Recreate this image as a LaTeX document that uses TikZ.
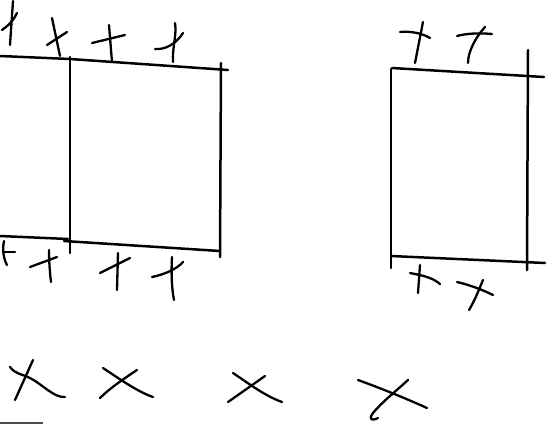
\documentclass[tikz,border=0pt]{standalone}
\begin{document}
\begin{tikzpicture}[x=1pt,y=-1pt,
  pen/.style={line width=2.5pt,line cap=round,line join=round,black},
  tick/.style={line width=2.3pt,line cap=round,line join=round,black}]
\useasboundingbox[fill=white] (0,0) rectangle (555,424);
% left pair of boxes
\draw[pen] (0,56) -- (70,59) -- (228,70);
\draw[pen] (0,236) -- (68,239);
\draw[pen] (64,241) -- (220,251);
\draw[pen] (70,57) -- (70,253);
\draw[pen] (221,63) -- (220,257);
% right box
\draw[pen] (392,68) -- (544,77);
\draw[pen] (391,256) -- (545,263);
\draw[pen] (391,69) -- (391,268);
\draw[pen] (528,50) -- (527,270);
% ticks on top of left boxes
\draw[tick] (13,1) -- (10,45);  \draw[tick] (2,30) .. controls (8,26) and (14,20) .. (17,13);
\draw[tick] (52,18) -- (60,56); \draw[tick] (47,45) -- (67,32);
\draw[tick] (109,25) -- (112,62); \draw[tick] (92,43) -- (125,35);
\draw[tick] (175,23) .. controls (177,35) and (172,48) .. (173,62); \draw[tick] (155,49) .. controls (165,50) and (176,44) .. (183,33);
% ticks below left boxes
\draw[tick] (4,241) .. controls (2,250) and (4,260) .. (7,265); \draw[tick] (3,252) -- (15,252);
\draw[tick] (49,250) .. controls (49,262) and (50,274) .. (51,282); \draw[tick] (30,267) -- (57,257);
\draw[tick] (118,253) -- (117,290); \draw[tick] (100,273) -- (130,258);
\draw[tick] (172,257) .. controls (171,275) and (172,290) .. (174,300); \draw[tick] (152,277) .. controls (162,275) and (176,270) .. (183,262);
% ticks on top of right box
\draw[tick] (423,22) -- (415,63); \draw[tick] (400,32) .. controls (410,31) and (422,33) .. (430,38);
\draw[tick] (485,27) .. controls (475,38) and (468,52) .. (468,63); \draw[tick] (457,36) .. controls (468,33) and (482,33) .. (492,34);
% ticks below right box
\draw[tick] (420,265) -- (418,293); \draw[tick] (410,273) .. controls (420,275) and (432,277) .. (440,284);
\draw[tick] (483,280) .. controls (478,292) and (474,302) .. (469,310); \draw[tick] (457,282) .. controls (470,285) and (483,290) .. (493,295);
% crosses at the bottom
\draw[tick] (33,360) -- (15,400); \draw[tick] (10,367) .. controls (15,374) and (22,374) .. (30,378) .. controls (42,384) and (54,398) .. (65,397);
\draw[tick] (137,370) .. controls (125,378) and (110,388) .. (100,398); \draw[tick] (103,368) .. controls (118,378) and (138,392) .. (153,397);
\draw[tick] (265,376) -- (228,402); \draw[tick] (233,373) .. controls (248,383) and (265,396) .. (282,402);
\draw[tick] (408,380) .. controls (395,392) and (382,402) .. (373,413) .. controls (368,420) and (372,421) .. (378,418);
\draw[tick] (358,380) .. controls (380,388) and (405,398) .. (427,408);
% scan edge mark
\draw[line width=1.5pt,black!70] (0,423) -- (43,423);
\end{tikzpicture}
\end{document}
